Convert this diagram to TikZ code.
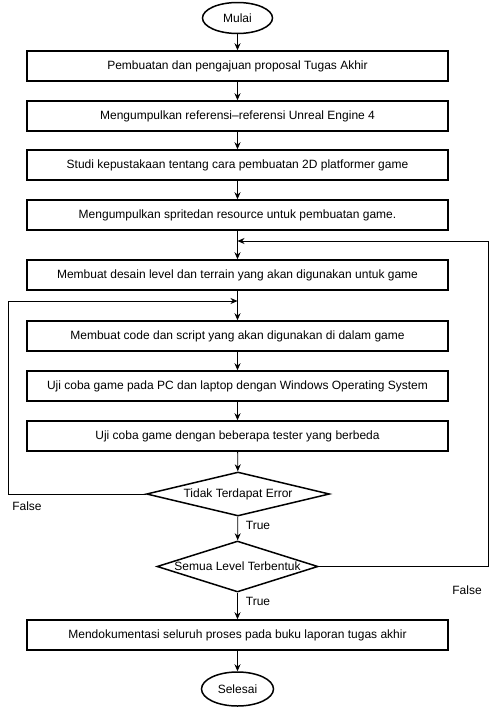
\documentclass[tikz,border=0pt]{standalone}
\usepackage{fontspec}
\setmainfont{Liberation Sans}
\usetikzlibrary{shapes.geometric,arrows.meta}
\begin{document}
\begin{tikzpicture}[x=1pt,y=-1pt,
  every node/.style={font=\fontsize{12}{14}\selectfont},
  procbox/.style={draw,line width=1.5pt,minimum width=421pt,minimum height=30pt,inner sep=0pt},
  term/.style={draw,ellipse,line width=1.5pt,minimum width=70pt,minimum height=31pt,inner sep=0pt},
  decision/.style={draw,diamond,line width=1.5pt,inner sep=0pt},
  arr/.style={line width=0.8pt,-{Stealth[length=7pt,width=6pt]}},
  ln/.style={line width=0.8pt}]
\useasboundingbox (0,0) rectangle (496,707);
\node[term] (start) at (237.5,18) {Mulai};
\node[procbox] (b1) at (237.5,66) {Pembuatan dan pengajuan proposal Tugas Akhir};
\node[procbox] (b2) at (237.5,116) {Mengumpulkan referensi--referensi Unreal Engine 4};
\node[procbox] (b3) at (237.5,165) {Studi kepustakaan tentang cara pembuatan 2D platformer game};
\node[procbox] (b4) at (237.5,215) {Mengumpulkan spritedan resource untuk pembuatan game.};
\node[procbox] (b5) at (237.5,275) {Membuat desain level dan terrain yang akan digunakan untuk game};
\node[procbox] (b6) at (237.5,336) {Membuat code dan script yang akan digunakan di dalam game};
\node[procbox] (b7) at (237.5,386) {Uji coba game pada PC dan laptop dengan Windows Operating System};
\node[procbox] (b8) at (237.5,436) {Uji coba game dengan beberapa tester yang berbeda};
\node[decision,minimum width=183pt,minimum height=44pt,label={center:Tidak Terdapat Error}] (d1) at (238,494) {};
\node[decision,minimum width=161pt,minimum height=51pt,label={center:Semua Level Terbentuk}] (d2) at (237.5,566.5) {};
\node[procbox] (b9) at (237.5,635) {Mendokumentasi seluruh proses pada buku laporan tugas akhir};
\node[term,minimum width=72pt,minimum height=34pt] (end) at (237.5,689) {Selesai};
\coordinate (j1) at (237.5,301);
\coordinate (lc) at (8,301);
\coordinate (j2) at (237.5,241);
\coordinate (rc) at (488,241);
\draw[arr] (start) -- (b1);
\draw[arr] (b1) -- (b2);
\draw[arr] (b2) -- (b3);
\draw[arr] (b3) -- (b4);
\draw[arr] (b4) -- (b5);
\draw[arr] (b5) -- (b6);
\draw[arr] (b6) -- (b7);
\draw[arr] (b7) -- (b8);
\draw[arr] (b8) -- (d1);
\draw[arr] (d1) -- (d2);
\draw[arr] (d2) -- (b9);
\draw[arr] (b9) -- (end);
\draw[ln] (d1.west) -| (lc);
\draw[arr] (lc) -- (j1);
\draw[ln] (d2.east) -| (rc);
\draw[arr] (rc) -- (j2);
\node (lf1) at (27,506) {False};
\node (lt1) at (258,525) {True};
\node (lt2) at (258,601) {True};
\node (lf2) at (467,590) {False};
\end{tikzpicture}
\end{document}
